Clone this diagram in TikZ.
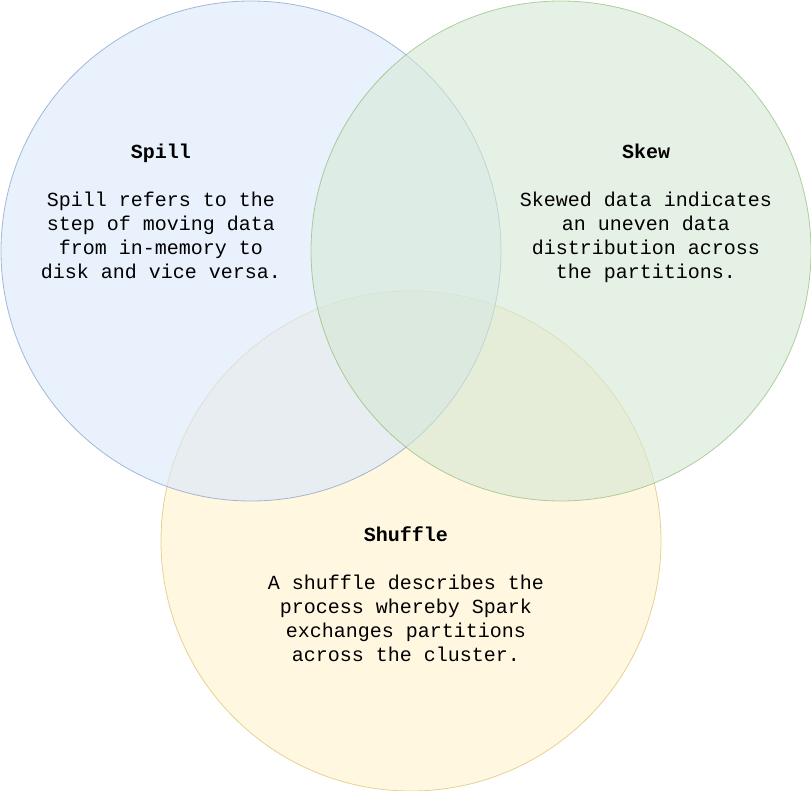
\documentclass[tikz,border=0pt]{standalone}
\usepackage{fontspec}
\setmonofont{Liberation Mono}
\begin{document}
\begin{tikzpicture}[x=1pt,y=-1pt,
  venn/.style={circle, minimum size=500pt, inner sep=0pt, draw, line width=0.8pt, opacity=0.6},
  lbl/.style={align=center, font=\ttfamily\fontsize{20}{24}\selectfont, inner sep=0pt}]
\useasboundingbox (0,0) rectangle (811,791);
\definecolor{bluefill}{HTML}{DAE8FC}\definecolor{bluedraw}{HTML}{6C8EBF}
\definecolor{greenfill}{HTML}{D5E8D4}\definecolor{greendraw}{HTML}{82B366}
\definecolor{yellowfill}{HTML}{FFF2CC}\definecolor{yellowdraw}{HTML}{D6B656}
\node[venn, fill=yellowfill, draw=yellowdraw] (shuffle) at (411,541) {};
\node[venn, fill=bluefill, draw=bluedraw] (spill) at (251,251) {};
\node[venn, fill=greenfill, draw=greendraw] (skew) at (561,251) {};
\node[lbl] (spilltxt) at (161,211.5) {\textbf{Spill}\\[24pt]Spill refers to the\\step of moving data\\from in-memory to\\disk and vice versa.};
\node[lbl] (skewtxt) at (646,213) {\textbf{Skew}\\[24pt]Skewed data indicates\\an uneven data\\distribution across\\the partitions.};
\node[lbl] (shuffletxt) at (406,594) {\textbf{Shuffle}\\[24pt]A shuffle describes the\\process whereby Spark\\exchanges partitions\\across the cluster.};
\end{tikzpicture}
\end{document}
